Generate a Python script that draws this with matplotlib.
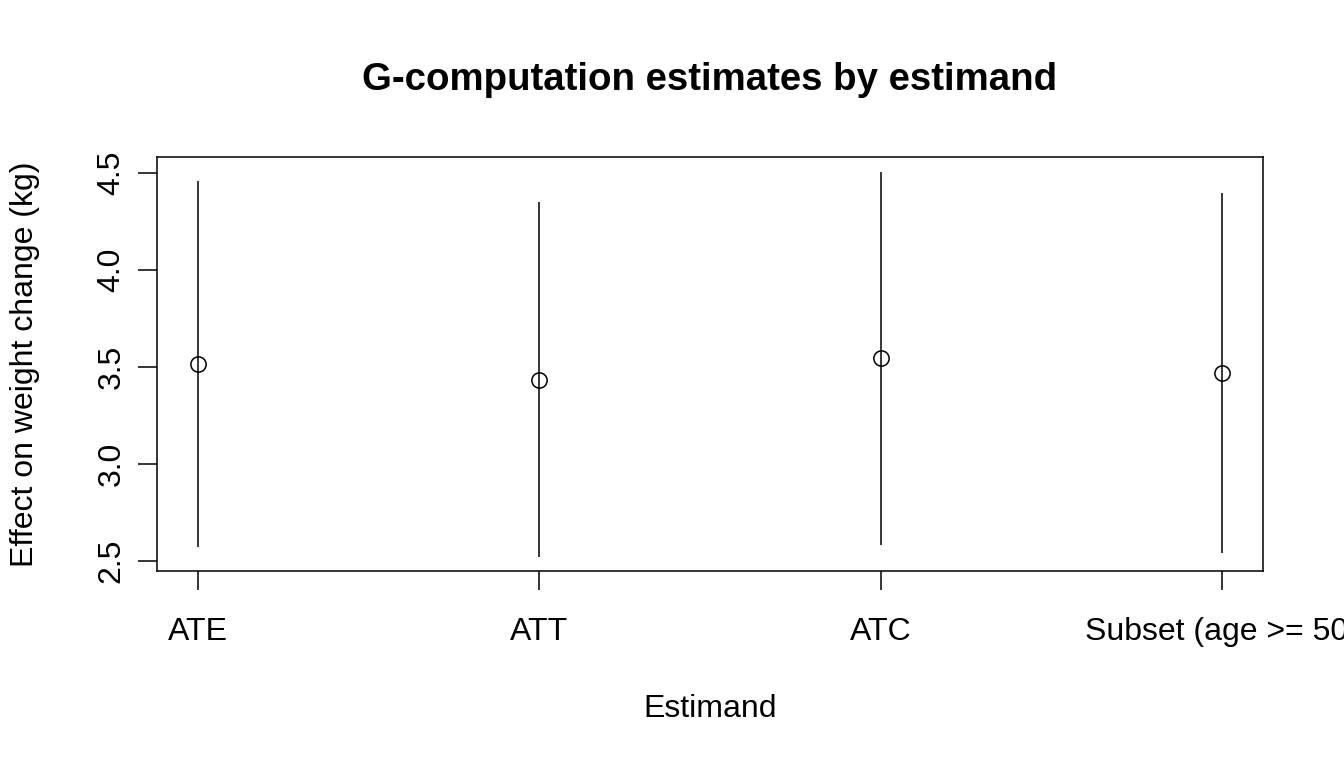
import matplotlib
matplotlib.use("Agg")
import matplotlib.pyplot as plt
import numpy as np

plt.rcParams['font.family'] = ['Liberation Sans', 'DejaVu Sans']

estimands = ["ATE", "ATT", "ATC", "Subset (age >= 50)"]
estimates = [3.515, 3.435, 3.545, 3.470]
ci_lower = [2.572, 2.522, 2.585, 2.545]
ci_upper = [4.459, 4.351, 4.504, 4.394]
yticks = [2.5, 3.0, 3.5, 4.0, 4.5]

fig = plt.figure(figsize=(13.44, 7.68), dpi=100)
ax = fig.add_axes([157/1344, 1-571.3/768, (1263-157)/1344, (571.3-157)/768])

x = np.arange(1, len(estimands) + 1)
ax.vlines(x, ci_lower, ci_upper, color='black', linewidth=1.1)
ax.plot(x, estimates, linestyle='none', marker='o', markersize=11,
        markerfacecolor='none', markeredgecolor='black', markeredgewidth=1.1)

ax.set_xlim(0.88, 4.12)
ax.set_ylim(2.4485, 4.581)
ax.set_xticks(x)
ax.set_xticklabels(estimands, fontsize=23)
ax.set_yticks(yticks)
ax.set_yticklabels([f"{v:.1f}" for v in yticks], fontsize=23, rotation=90, va='center')
ax.tick_params(axis='x', length=14, width=1.1, pad=19)
ax.tick_params(axis='y', length=14, width=1.1, pad=8)
for s in ax.spines.values():
    s.set_linewidth(1.1)

fig.text(710/1344, 1-80/768, "G-computation estimates by estimand", fontsize=27.6,
         fontweight='bold', ha='center', va='center')
fig.text(710/1344, 1-709/768, "Estimand", fontsize=23, ha='center', va='center')
fig.text(25/1344, 1-364/768, "Effect on weight change (kg)", fontsize=23,
         ha='center', va='center', rotation=90)

fig.savefig("out.png", dpi=100)
